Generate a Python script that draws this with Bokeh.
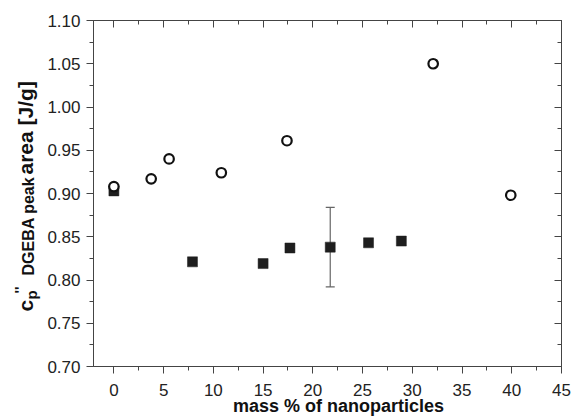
import math
from bokeh.plotting import figure
from bokeh.layouts import row, column
from bokeh.models import (LinearAxis, FixedTicker, NumeralTickFormatter,
                          ColumnDataSource, Whisker, TeeHead, Range1d)
from bokeh.core.properties import value
from bokeh.embed import file_html
from bokeh.resources import INLINE

# ---- data ----
circle_x = [0, 3.75, 5.55, 10.8, 17.4, 32.1, 39.9]
circle_y = [0.908, 0.917, 0.940, 0.924, 0.961, 1.050, 0.898]

square_x = [0, 7.9, 15.0, 17.7, 21.75, 25.6, 28.9]
square_y = [0.903, 0.821, 0.819, 0.837, 0.838, 0.843, 0.845]

err_x = [21.75]
err_low = [0.792]
err_high = [0.884]

x_ticks = [0, 5, 10, 15, 20, 25, 30, 35, 40, 45]
x_tick_labels = ["0", "5", "10", "15", "20", "25", "30", "35", "40", "45"]
x_minor = [2.5, 7.5, 12.5, 17.5, 22.5, 27.5, 32.5, 37.5, 42.5]
y_ticks = [0.70, 0.75, 0.80, 0.85, 0.90, 0.95, 1.00, 1.05, 1.10]
y_minor = [0.725, 0.775, 0.825, 0.875, 0.925, 0.975, 1.025, 1.075]

x_title = "mass % of nanoparticles"
y_title_parts = [("c", "21px"), ("p", "15px"), ("''", "15px"),
                 ("DGEBA peak", "16px"), ("area [J/g]", "21px")]

X_MIN, X_MAX = -2.05, 45
Y_MIN, Y_MAX = 0.70, 1.10

TOTAL_W, TOTAL_H = 573, 420
FRAME_L, FRAME_R, FRAME_T, FRAME_B = 93, 561, 20, 366
LAB_W = 44
MAIN_BB = 10
MAIN_H = FRAME_B + MAIN_BB
STRIP_H = TOTAL_H - MAIN_H
FONT = "Liberation Sans"
AX = "#444444"
TXT = "#111111"
TICK_TXT = "#222222"


def clean(f):
    f.xgrid.visible = False
    f.ygrid.visible = False
    f.background_fill_color = "white"
    f.border_fill_color = "white"
    return f


# ---------------- main plot ----------------
p = figure(width=TOTAL_W - LAB_W, height=MAIN_H,
           x_range=Range1d(X_MIN, X_MAX), y_range=Range1d(Y_MIN, Y_MAX),
           output_backend="svg", toolbar_location=None,
           min_border_left=FRAME_L - LAB_W, min_border_right=TOTAL_W - FRAME_R,
           min_border_top=FRAME_T, min_border_bottom=MAIN_BB,
           x_axis_location=None, y_axis_location=None)
clean(p)
p.outline_line_color = AX
p.outline_line_width = 1


def style(ax, ticks, outward, show_labels):
    ax.axis_line_color = AX
    ax.major_tick_line_color = AX
    ax.minor_tick_line_color = AX
    ax.axis_label = None
    if outward:
        ax.major_tick_out, ax.major_tick_in = 7, 0
        ax.minor_tick_out, ax.minor_tick_in = 4, 0
    else:
        ax.major_tick_out, ax.major_tick_in = 0, 7
        ax.minor_tick_out, ax.minor_tick_in = 0, 4
    if show_labels:
        ax.major_label_text_font = FONT
        ax.major_label_text_font_size = "17px"
        ax.major_label_text_color = TICK_TXT
    else:
        ax.major_label_overrides = {t: "" for t in ticks}
        ax.major_label_standoff = 0


xb = LinearAxis(ticker=FixedTicker(ticks=x_ticks, minor_ticks=x_minor))
style(xb, x_ticks, True, False)
p.add_layout(xb, "below")

yl = LinearAxis(ticker=FixedTicker(ticks=y_ticks, minor_ticks=y_minor),
                formatter=NumeralTickFormatter(format="0.00"))
style(yl, y_ticks, True, True)
yl.major_label_standoff = 6
p.add_layout(yl, "left")

xt = LinearAxis(ticker=FixedTicker(ticks=x_ticks, minor_ticks=x_minor))
style(xt, x_ticks, False, False)
p.add_layout(xt, "above")

yr = LinearAxis(ticker=FixedTicker(ticks=y_ticks, minor_ticks=y_minor))
style(yr, y_ticks, False, False)
p.add_layout(yr, "right")

esrc = ColumnDataSource(dict(x=err_x, lo=err_low, hi=err_high))
p.add_layout(Whisker(source=esrc, base="x", lower="lo", upper="hi", dimension="height",
                     line_color="#666666", line_width=1.2,
                     lower_head=TeeHead(size=9, line_color="#666666", line_width=1.2),
                     upper_head=TeeHead(size=9, line_color="#666666", line_width=1.2)))

p.scatter(square_x, square_y, marker="square", size=10, fill_color="#1e1e1e",
          line_color="#1e1e1e", line_width=0.5)
p.scatter(circle_x, circle_y, marker="circle", size=9.5, fill_color="white",
          line_color="#111111", line_width=2.2)

# ---------------- y title (left strip; its frame is aligned with the main frame) ----------------
lab = figure(width=LAB_W, height=MAIN_H, x_range=Range1d(0, LAB_W),
             y_range=Range1d(-FRAME_B, -FRAME_T),
             output_backend="svg", toolbar_location=None,
             min_border_left=0, min_border_right=0, min_border_top=0, min_border_bottom=0,
             x_axis_location=None, y_axis_location=None)
clean(lab)
lab.outline_line_color = None
# (centre line x, start y) in page pixels; text runs upward
piece_pos = [(24.6, 311), (30.5, 299), (18.8, 293), (28.3, 275), (24.6, 174)]
for (txt, fs), (xp, yp) in zip(y_title_parts, piece_pos):
    lab.text(x=[xp], y=[-yp], text=[txt], angle=math.pi / 2,
             text_font=value(FONT), text_font_size=fs, text_font_style="bold",
             text_align="left", text_baseline="middle", text_color=TXT)

# ---------------- bottom strip: x tick labels + x title (same x scale as main) ----------------
k = (X_MAX - X_MIN) / (FRAME_R - FRAME_L)
strip = figure(width=TOTAL_W, height=STRIP_H,
               x_range=Range1d(X_MIN - FRAME_L * k, X_MAX + (TOTAL_W - FRAME_R) * k),
               y_range=Range1d(0, STRIP_H),
               output_backend="svg", toolbar_location=None,
               min_border_left=0, min_border_right=0, min_border_top=0, min_border_bottom=0,
               x_axis_location=None, y_axis_location=None)
clean(strip)
strip.outline_line_color = None
strip.text(x=x_ticks, y=[TOTAL_H - 389.5] * len(x_ticks), text=x_tick_labels,
           text_font=value(FONT), text_font_size="17px", text_align="center",
           text_baseline="middle", text_color=TICK_TXT)
title_x = X_MIN + (338 - FRAME_L) * k
strip.text(x=[title_x], y=[TOTAL_H - 405.5], text=[x_title],
           text_font=value(FONT), text_font_size="18px", text_font_style="bold",
           text_align="center", text_baseline="middle", text_color=TXT)

layout = column(row(lab, p, spacing=0), strip, spacing=0)

open("out.html", "w").write(file_html(layout, INLINE))
